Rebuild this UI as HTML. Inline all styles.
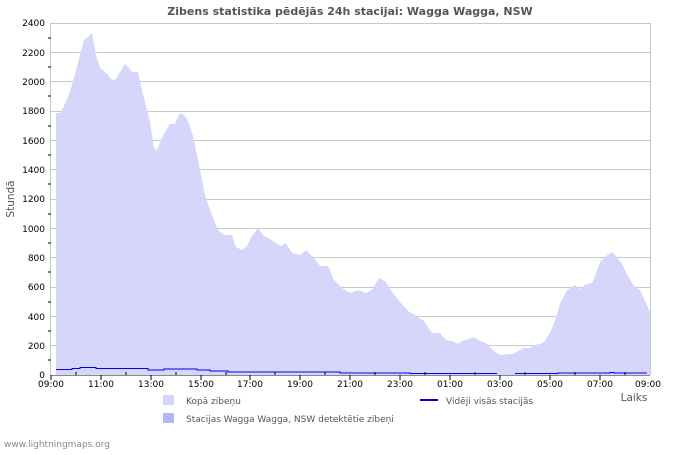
<!DOCTYPE html>
<html><head><meta charset="utf-8"><style>
body{margin:0;background:#fff;}
svg text{font-family:"DejaVu Sans","Liberation Sans",sans-serif;}
</style></head><body>
<svg width="700" height="450" viewBox="0 0 700 450" xmlns="http://www.w3.org/2000/svg">
<rect width="700" height="450" fill="#fff"/>
<text x="350" y="15" text-anchor="middle" font-size="11" font-weight="bold" fill="#555">Zibens statistika pēdējās 24h stacijai: Wagga Wagga, NSW</text>
<g stroke="#c8c8c8" stroke-width="1">
<line x1="51" y1="23.5" x2="650" y2="23.5"/><line x1="51" y1="52.5" x2="650" y2="52.5"/><line x1="51" y1="81.5" x2="650" y2="81.5"/><line x1="51" y1="111.5" x2="650" y2="111.5"/><line x1="51" y1="140.5" x2="650" y2="140.5"/><line x1="51" y1="169.5" x2="650" y2="169.5"/><line x1="51" y1="199.5" x2="650" y2="199.5"/><line x1="51" y1="228.5" x2="650" y2="228.5"/><line x1="51" y1="257.5" x2="650" y2="257.5"/><line x1="51" y1="287.5" x2="650" y2="287.5"/><line x1="51" y1="316.5" x2="650" y2="316.5"/><line x1="51" y1="345.5" x2="650" y2="345.5"/>
<line x1="650.5" y1="23" x2="650.5" y2="375"/><line x1="50.5" y1="23" x2="50.5" y2="375"/>
</g>
<polygon fill="#d6d6fb" points="56,375 56,113 60,113 62,110 64,106 68,97 72,85 76,70 80,55 84,40 88,37 92,33 96,55 100,68 104,71 108,75 112,80 116,79 120,72 125,64 129,68 132,72 138,72 142,90 146,106 150,122 154,148 157,150 161,140 166,130 170,124 175,124 180,113 185,116 189,123 193,136 197,155 201,175 205,195 209,207 213,218 218,230 224,235 232,235 236,247 242,250 247,246 252,236 258,228 264,236 270,239 276,243 281,246 286,243 292,253 300,255 306,250 314,258 320,266 328,266 334,280 342,288 350,293 358,290 366,293 372,290 379,278 386,282 392,292 400,302 408,311 415,315 424,321 432,333 440,333 446,340 452,341 458,344 462,341 466,340 474,337 480,341 486,343 492,349 498,354 502,355 508,354 513,354 518,351 524,348 530,348 534,345 540,344 544,342 550,333 556,318 560,304 566,292 570,288 575,285 580,289 585,285 592,283 595,276 600,262 606,256 612,252 616,256 622,264 628,276 634,286 640,290 646,303 650,312 650,375"/>
<polyline fill="none" stroke="#0000ee" stroke-width="1" points="56,369.5 72,369.5 72,368.5 80,368.5 80,367.5 96,367.5 96,368.5 148,368.5 148,370 164,370 164,369 197,369 197,370 210,370 210,371 228,371 228,372 340,372 340,373 410,373 410,373.5 497,373.5"/>
<polyline fill="none" stroke="#0000ee" stroke-width="1" points="515,373.5 558,373.5 558,373 610,373 610,372.5 614,372.5 614,373 647,373"/>
<line x1="51" y1="375.5" x2="650" y2="375.5" stroke="#888"/>
<g stroke="#000" stroke-width="1">
<line x1="51" y1="375" x2="51" y2="380"/><line x1="101" y1="375" x2="101" y2="380"/><line x1="151" y1="375" x2="151" y2="380"/><line x1="201" y1="375" x2="201" y2="380"/><line x1="250" y1="375" x2="250" y2="380"/><line x1="300" y1="375" x2="300" y2="380"/><line x1="350" y1="375" x2="350" y2="380"/><line x1="400" y1="375" x2="400" y2="380"/><line x1="450" y1="375" x2="450" y2="380"/><line x1="500" y1="375" x2="500" y2="380"/><line x1="550" y1="375" x2="550" y2="380"/><line x1="600" y1="375" x2="600" y2="380"/>
<line x1="76" y1="375" x2="76" y2="372"/><line x1="126" y1="375" x2="126" y2="372"/><line x1="176" y1="375" x2="176" y2="372"/><line x1="226" y1="375" x2="226" y2="372"/><line x1="275" y1="375" x2="275" y2="372"/><line x1="325" y1="375" x2="325" y2="372"/><line x1="375" y1="375" x2="375" y2="372"/><line x1="425" y1="375" x2="425" y2="372"/><line x1="475" y1="375" x2="475" y2="372"/><line x1="525" y1="375" x2="525" y2="372"/><line x1="575" y1="375" x2="575" y2="372"/><line x1="625" y1="375" x2="625" y2="372"/>
<line x1="48" y1="38" x2="51" y2="38"/><line x1="48" y1="67" x2="51" y2="67"/><line x1="48" y1="96" x2="51" y2="96"/><line x1="48" y1="126" x2="51" y2="126"/><line x1="48" y1="155" x2="51" y2="155"/><line x1="48" y1="184" x2="51" y2="184"/><line x1="48" y1="214" x2="51" y2="214"/><line x1="48" y1="243" x2="51" y2="243"/><line x1="48" y1="272" x2="51" y2="272"/><line x1="48" y1="302" x2="51" y2="302"/><line x1="48" y1="331" x2="51" y2="331"/><line x1="48" y1="360" x2="51" y2="360"/>
</g>
<g font-size="9" fill="#000" text-anchor="end">
<text x="45" y="26">2400</text><text x="45" y="56">2200</text><text x="45" y="85">2000</text><text x="45" y="114">1800</text><text x="45" y="144">1600</text><text x="45" y="173">1400</text><text x="45" y="202">1200</text><text x="45" y="232">1000</text><text x="45" y="261">800</text><text x="45" y="290">600</text><text x="45" y="320">400</text><text x="45" y="349">200</text><text x="45" y="378">0</text>
</g>
<g font-size="9" fill="#000" text-anchor="middle">
<text x="51" y="387">09:00</text><text x="101" y="387">11:00</text><text x="151" y="387">13:00</text><text x="201" y="387">15:00</text><text x="250" y="387">17:00</text><text x="300" y="387">19:00</text><text x="350" y="387">21:00</text><text x="400" y="387">23:00</text><text x="450" y="387">01:00</text><text x="500" y="387">03:00</text><text x="550" y="387">05:00</text><text x="600" y="387">07:00</text><text x="648" y="387">09:00</text>
</g>
<text x="14" y="199" font-size="10.5" fill="#555" text-anchor="middle" transform="rotate(-90 14 199)">Stundā</text>
<text x="634" y="401" font-size="10.5" fill="#555" text-anchor="middle">Laiks</text>
<rect x="163" y="395" width="11" height="10" fill="#d6d6fb"/>
<text x="186" y="404" font-size="9" fill="#555">Kopā zibeņu</text>
<rect x="163" y="413" width="11" height="10" fill="#b4b4f8"/>
<text x="186" y="422" font-size="9" fill="#555">Stacijas Wagga Wagga, NSW detektētie zibeņi</text>
<line x1="420" y1="400" x2="438" y2="400" stroke="#0000ee" stroke-width="2"/>
<text x="446" y="404" font-size="9" fill="#555">Vidēji visās stacijās</text>
<text x="4" y="447" font-size="9" fill="#888">www.lightningmaps.org</text>
</svg>
</body></html>
